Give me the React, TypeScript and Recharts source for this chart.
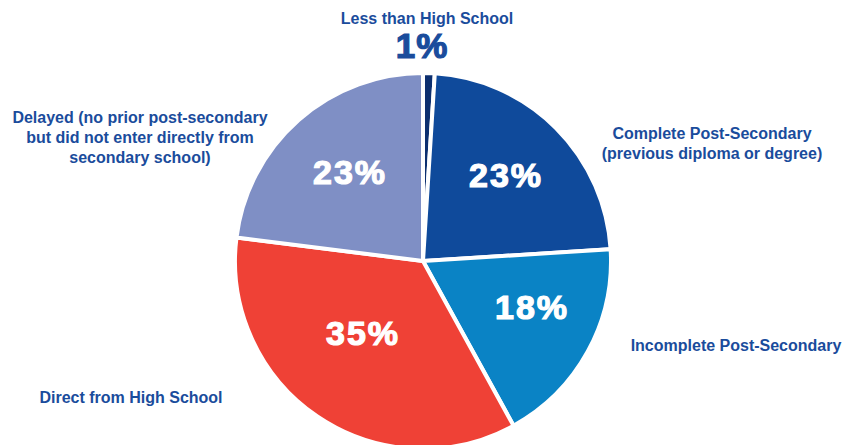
import { Pie, PieChart } from 'recharts'

// Share of students by prior education, clockwise from 12 o'clock
const CATEGORIES = [
	'Less than High School',
	'Complete Post-Secondary',
	'Incomplete Post-Secondary',
	'Direct from High School',
	'Delayed'
]
const SHARES = [1, 23, 18, 35, 23]
const SLICE_COLORS = ['#0c2f6f', '#0f4a9b', '#0a83c5', '#ef4136', '#7f8fc5']

// Outside caption lines for each slice
const CAPTIONS = [
	['Less than High School'],
	['Complete Post-Secondary', '(previous diploma or degree)'],
	['Incomplete Post-Secondary'],
	['Direct from High School'],
	['Delayed (no prior post-secondary', 'but did not enter directly from', 'secondary school)']
]

// Label placement, as offsets from the pie centre
const LABEL_LAYOUT = [
	{ pct: [-1, -216], cap: [4, -243], pctInside: false },
	{ pct: [83, -86], cap: [289, -118], pctInside: true },
	{ pct: [109, 46], cap: [313, 84], pctInside: true },
	{ pct: [-60, 72], cap: [-292, 136], pctInside: true },
	{ pct: [-73, -89], cap: [-283, -124], pctInside: true }
]

const TEXT_BLUE = '#1a4c9c'
const FONT = '"Liberation Sans", Arial, Helvetica, sans-serif'
const WIDTH = 848
const HEIGHT = 445

const data = CATEGORIES.map((name, i) => ({ name, value: SHARES[i], fill: SLICE_COLORS[i] }))

function renderLabel(props: any) {
	const { cx, cy, index, value } = props
	const layout = LABEL_LAYOUT[index]
	const lines = CAPTIONS[index]
	const capX = cx + layout.cap[0]
	const capY = cy + layout.cap[1]
	return (
		<g key={`lbl-${index}`}>
			<text
				x={cx + layout.pct[0]}
				y={cy + layout.pct[1]}
				textAnchor="middle"
				dominantBaseline="central"
				fill={layout.pctInside ? '#ffffff' : TEXT_BLUE}
				stroke={layout.pctInside ? '#ffffff' : TEXT_BLUE}
				strokeWidth={1.2}
				fontFamily={FONT}
				fontWeight={700}
				fontSize={layout.pctInside ? 34 : 35}
				letterSpacing={layout.pctInside ? 2 : 1}
			>
				{value}%
			</text>
			<text
				x={capX}
				textAnchor="middle"
				fill={TEXT_BLUE}
				fontFamily={FONT}
				fontWeight={700}
				fontSize={16}
			>
				{lines.map((line, i) => (
					<tspan
						key={i}
						x={capX}
						y={capY + (i - (lines.length - 1) / 2) * 20}
						dominantBaseline="central"
					>
						{line}
					</tspan>
				))}
			</text>
		</g>
	)
}

export default function App() {
	return (
		<div style={{ position: 'absolute', left: 0, top: 0, width: WIDTH, height: HEIGHT, background: '#ffffff' }}>
			<PieChart width={WIDTH} height={HEIGHT} margin={{ top: 0, right: 0, bottom: 0, left: 0 }}>
				<Pie
					data={data}
					dataKey="value"
					nameKey="name"
					cx={423}
					cy={261}
					outerRadius={188}
					startAngle={90}
					endAngle={-270}
					stroke="#ffffff"
					strokeWidth={4}
					label={renderLabel}
					labelLine={false}
					isAnimationActive={false}
				/>
			</PieChart>
		</div>
	)
}
